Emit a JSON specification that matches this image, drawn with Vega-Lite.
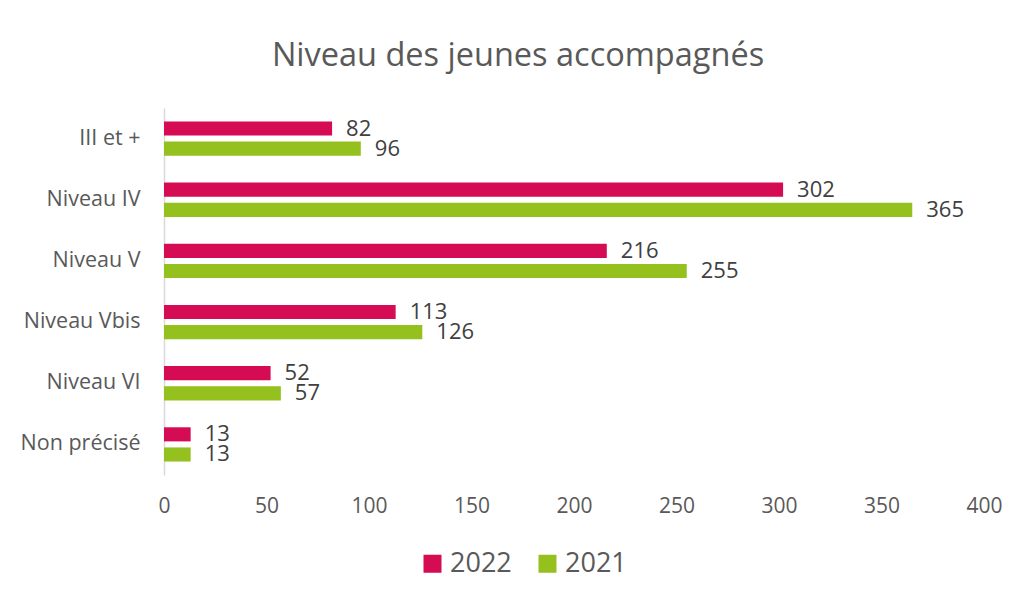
{
  "$schema": "https://vega.github.io/schema/vega-lite/v6.json",
  "width": 820,
  "height": 367,
  "autosize": {"type": "none"},
  "padding": {"left": 164, "top": 108, "right": 38, "bottom": 124},
  "background": "white",
  "title": {
    "text": "Niveau des jeunes accompagnés",
    "font": "Open Sans",
    "fontSize": 32.5,
    "fontWeight": "normal",
    "color": "#595959",
    "anchor": "middle",
    "dx": -56,
    "baseline": "alphabetic",
    "offset": 10
  },
  "config": {
    "view": {"stroke": null},
    "font": "Open Sans"
  },
  "data": {
    "values": [
      {"niveau": "III et +", "annee": "2022", "valeur": 82},
      {"niveau": "III et +", "annee": "2021", "valeur": 96},
      {"niveau": "Niveau IV", "annee": "2022", "valeur": 302},
      {"niveau": "Niveau IV", "annee": "2021", "valeur": 365},
      {"niveau": "Niveau V", "annee": "2022", "valeur": 216},
      {"niveau": "Niveau V", "annee": "2021", "valeur": 255},
      {"niveau": "Niveau Vbis", "annee": "2022", "valeur": 113},
      {"niveau": "Niveau Vbis", "annee": "2021", "valeur": 126},
      {"niveau": "Niveau VI", "annee": "2022", "valeur": 52},
      {"niveau": "Niveau VI", "annee": "2021", "valeur": 57},
      {"niveau": "Non précisé", "annee": "2022", "valeur": 13},
      {"niveau": "Non précisé", "annee": "2021", "valeur": 13}
    ]
  },
  "encoding": {
    "y": {
      "field": "niveau",
      "type": "nominal",
      "sort": ["III et +", "Niveau IV", "Niveau V", "Niveau Vbis", "Niveau VI", "Non précisé"],
      "scale": {"paddingInner": 0.44, "paddingOuter": 0.22},
      "axis": {
        "title": null,
        "domainColor": "#D9D9D9",
        "domainWidth": 1.5,
        "ticks": false,
        "labelFont": "Open Sans",
        "labelFontSize": 21.5,
        "labelColor": "#595959",
        "labelPadding": 24
      }
    },
    "yOffset": {
      "field": "annee",
      "type": "nominal",
      "sort": ["2022", "2021"],
      "scale": {"paddingInner": 0.3, "paddingOuter": 0}
    },
    "x": {
      "field": "valeur",
      "type": "quantitative",
      "scale": {"domain": [0, 400], "nice": false},
      "axis": {
        "title": null,
        "values": [0, 50, 100, 150, 200, 250, 300, 350, 400],
        "grid": false,
        "domain": false,
        "ticks": false,
        "labelFlush": false,
        "labelFont": "Open Sans",
        "labelFontSize": 21,
        "labelColor": "#595959",
        "labelPadding": 20
      }
    }
  },
  "layer": [
    {
      "mark": {"type": "bar"},
      "encoding": {
        "color": {
          "field": "annee",
          "type": "nominal",
          "scale": {"domain": ["2022", "2021"], "range": ["#D50B53", "#95C11F"]},
          "legend": {
            "title": null,
            "orient": "none",
            "legendX": 255,
            "legendY": 442,
            "direction": "horizontal",
            "symbolType": "square",
            "symbolSize": 324,
            "symbolStrokeWidth": 0,
            "labelFont": "Open Sans",
            "labelFontSize": 27,
            "labelColor": "#595959",
            "labelOffset": 4,
            "columnPadding": 22
          }
        }
      }
    },
    {
      "mark": {"type": "text", "align": "left", "dx": 14, "fontSize": 22, "font": "Open Sans", "color": "#404040"},
      "encoding": {
        "text": {"field": "valeur", "type": "quantitative"}
      }
    }
  ]
}
